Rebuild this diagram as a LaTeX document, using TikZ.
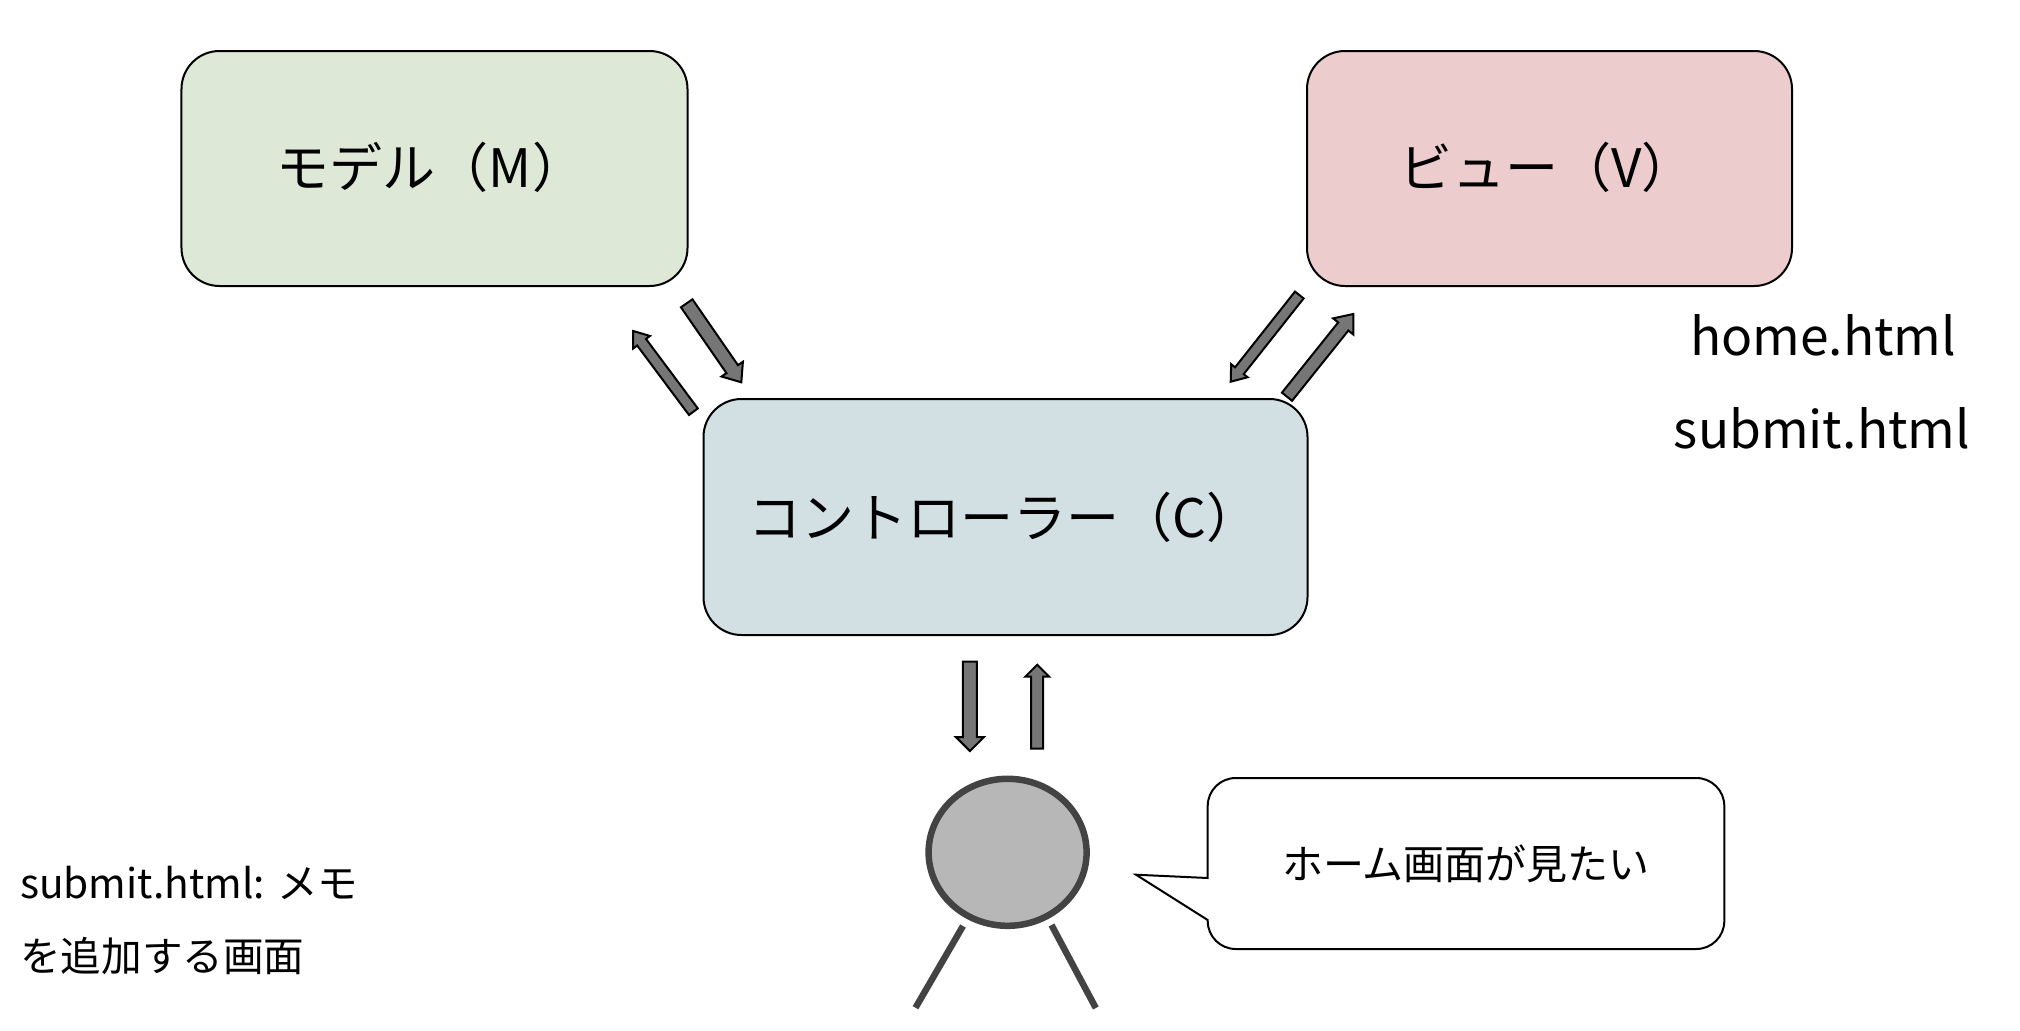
\documentclass[tikz,border=0pt]{standalone}
\usepackage{fontspec}
\setmainfont{Noto Sans CJK JP}
\usetikzlibrary{calc,shapes.geometric}
\definecolor{mgreen}{HTML}{DDE9D6}
\definecolor{vpink}{HTML}{ECCCCC}
\definecolor{cblue}{HTML}{D2DFE3}
\definecolor{arrowgray}{HTML}{767676}
\definecolor{headgray}{HTML}{B7B7B7}
\definecolor{linegray}{HTML}{434343}
\tikzset{
  mvcbox/.style={draw=black,line width=2bp,rounded corners=38bp,inner sep=0pt,font=\fontsize{53bp}{62bp}\selectfont},
  blockarrow/.style={draw=black,line width=2bp,fill=arrowgray,line join=miter},
  personline/.style={draw=linegray,line width=6.5bp},
  filelabel/.style={inner sep=0pt,font=\fontsize{51.5bp}{60bp}\selectfont},
  memolabel/.style={inner sep=0pt,anchor=west,font=\fontsize{40.6bp}{48bp}\selectfont},
  speech/.style={inner sep=0pt,font=\fontsize{41bp}{48bp}\selectfont}
}
\newcommand{\blockarrow}[5]{%
  \coordinate (hb) at ($(#2)!#5!(#1)$);
  \draw[blockarrow] ($(#1)!#3!90:(#2)$) -- ($(hb)!#3!90:(#2)$) -- ($(hb)!#4!90:(#2)$) -- (#2)
    -- ($(hb)!#4!-90:(#2)$) -- ($(hb)!#3!-90:(#2)$) -- ($(#1)!#3!-90:(#2)$) -- cycle;
}
\begin{document}
\begin{tikzpicture}[x=1bp,y=-1bp]
\useasboundingbox (0,0) rectangle (2020,1030);
% boxes
\node[mvcbox,fill=mgreen,minimum width=506bp,minimum height=235bp] (model) at (434.5,168.5) {};
\node[mvcbox,fill=vpink,minimum width=485bp,minimum height=235bp] (view) at (1549.5,168.5) {};
\node[mvcbox,fill=cblue,minimum width=604bp,minimum height=236bp] (ctrl) at (1005.5,517) {};
\node[mvcbox,draw=none,rounded corners=0pt] (modeltext) at (431,167) {モデル（M）};
\node[mvcbox,draw=none,rounded corners=0pt] (viewtext) at (1547,167) {ビュー（V）};
\node[mvcbox,draw=none,rounded corners=0pt] (ctrltext) at (1004,517) {コントローラー（C）};
% file labels
\node[filelabel] (home) at (1823,335) {home.html};
\node[filelabel] (submit) at (1822,428) {submit.html};
% memo
\node[memolabel] (memoa) at (20,883) {submit.html: メモ};
\node[memolabel] (memob) at (20,956) {を追加する画面};
% arrows
\coordinate (a1s) at (693.4,411.7); \coordinate (a1e) at (633.2,331);
\coordinate (a2s) at (686.7,303.3); \coordinate (a2e) at (741.3,382.3);
\coordinate (a3s) at (1299.3,295);  \coordinate (a3e) at (1230.7,381.7);
\coordinate (a4s) at (1287,396.7);  \coordinate (a4e) at (1353.3,314);
\coordinate (a5s) at (969.9,661.7); \coordinate (a5e) at (969.9,751);
\coordinate (a6s) at (1037.2,748.7);\coordinate (a6e) at (1037.2,664.7);
\blockarrow{a1s}{a1e}{5.5bp}{10.5bp}{14bp}
\blockarrow{a2s}{a2e}{7bp}{13bp}{16bp}
\blockarrow{a3s}{a3e}{5.5bp}{10.5bp}{14bp}
\blockarrow{a4s}{a4e}{6.5bp}{13bp}{16bp}
\blockarrow{a5s}{a5e}{7bp}{14bp}{14bp}
\blockarrow{a6s}{a6e}{6bp}{12bp}{12bp}
% person
\node[draw=linegray,line width=6.5bp,fill=headgray,ellipse,inner sep=0pt,minimum width=158bp,minimum height=147bp] (head) at (1007.6,852.3) {};
\coordinate (l1s) at (963,926); \coordinate (l1e) at (915.5,1007.7);
\coordinate (l2s) at (1051.5,925); \coordinate (l2e) at (1095.8,1008);
\draw[personline] (l1s) -- (l1e);
\draw[personline] (l2s) -- (l2e);
% speech bubble
\coordinate (tip) at (1136,874.7);
\draw[black,line width=2bp,fill=white,rounded corners=28bp]
  (1207.7,920) -- (1207.7,949) -- (1724.3,949) -- (1724.3,778) -- (1207.7,778) [sharp corners] -- (1207.7,878) -- (tip) -- cycle;
\node[speech] (bubble) at (1466,864) {ホーム画面が見たい};
\end{tikzpicture}
\end{document}
